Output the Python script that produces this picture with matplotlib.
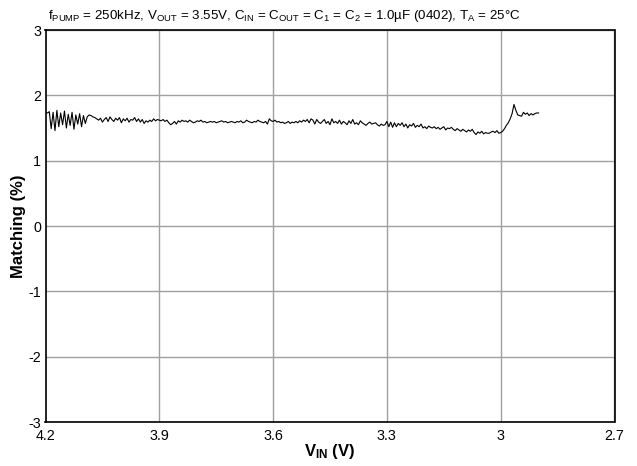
import numpy as np
import matplotlib
matplotlib.use('Agg')
import matplotlib.pyplot as plt

plt.rcParams['font.family'] = ['Liberation Sans', 'DejaVu Sans']
plt.rcParams['mathtext.fontset'] = 'custom'
plt.rcParams['mathtext.rm'] = 'Liberation Sans'
plt.rcParams['mathtext.bf'] = 'Liberation Sans:bold'
plt.rcParams['axes.unicode_minus'] = False

# matching (%), VIN swept 4.2V -> 2.9V
matching = [
    # 4.200 .. 4.085
    1.74, 1.73, 1.75, 1.49, 1.74, 1.46, 1.77, 1.52, 1.73, 1.55, 1.76, 1.50,
    1.71, 1.54, 1.74, 1.48, 1.70, 1.56, 1.72, 1.52, 1.69, 1.57, 1.67, 1.70,
    # 4.080 .. 3.905
    1.69, 1.67, 1.66, 1.64, 1.62, 1.65, 1.59, 1.63, 1.66, 1.60, 1.67, 1.63,
    1.60, 1.65, 1.62, 1.66, 1.58, 1.64, 1.61, 1.65, 1.59, 1.63, 1.62, 1.66,
    1.60, 1.64, 1.59, 1.63, 1.57, 1.61, 1.59, 1.62, 1.60, 1.64, 1.61, 1.63,
    # 3.900 .. 3.605
    1.62, 1.61, 1.63, 1.60, 1.62, 1.58, 1.55, 1.57, 1.60, 1.56, 1.61, 1.59,
    1.62, 1.60, 1.61, 1.59, 1.62, 1.60, 1.58, 1.59, 1.61, 1.60, 1.62, 1.59,
    1.60, 1.58, 1.59, 1.60, 1.59, 1.60, 1.58, 1.59, 1.60, 1.61, 1.59, 1.60,
    1.58, 1.59, 1.60, 1.59, 1.58, 1.60, 1.59, 1.61, 1.58, 1.59, 1.62, 1.60,
    1.59, 1.58, 1.60, 1.59, 1.62, 1.60, 1.59, 1.58, 1.60, 1.56, 1.64, 1.61,
    # 3.600 .. 3.305
    1.60, 1.62, 1.59, 1.60, 1.58, 1.59, 1.57, 1.58, 1.60, 1.57, 1.59, 1.58,
    1.60, 1.58, 1.61, 1.59, 1.62, 1.60, 1.63, 1.58, 1.64, 1.62, 1.56, 1.63,
    1.59, 1.57, 1.60, 1.63, 1.57, 1.60, 1.55, 1.64, 1.58, 1.60, 1.57, 1.62,
    1.56, 1.60, 1.58, 1.55, 1.61, 1.57, 1.63, 1.56, 1.58, 1.55, 1.61, 1.58,
    1.56, 1.54, 1.57, 1.59, 1.56, 1.57, 1.58, 1.55, 1.53, 1.56, 1.54, 1.55,
    # 3.300 .. 3.005
    1.60, 1.52, 1.59, 1.51, 1.58, 1.52, 1.57, 1.54, 1.58, 1.52, 1.56, 1.50,
    1.55, 1.53, 1.57, 1.51, 1.54, 1.52, 1.56, 1.50, 1.52, 1.49, 1.53, 1.51,
    1.50, 1.52, 1.49, 1.51, 1.48, 1.50, 1.52, 1.47, 1.50, 1.49, 1.51, 1.48,
    1.46, 1.49, 1.47, 1.45, 1.48, 1.46, 1.44, 1.47, 1.45, 1.48, 1.43, 1.40,
    1.44, 1.42, 1.45, 1.41, 1.43, 1.42, 1.42, 1.44, 1.45, 1.43, 1.46, 1.42,
    # 3.000 .. 2.900
    1.43, 1.45, 1.49, 1.54, 1.58, 1.64, 1.72, 1.86, 1.77, 1.70, 1.69, 1.68,
    1.74, 1.71, 1.73, 1.69, 1.72, 1.70, 1.72, 1.73, 1.73,
]
vin = np.linspace(4.2, 2.9, len(matching))

xticks = [4.2, 3.9, 3.6, 3.3, 3.0, 2.7]
xticklabels = ['4.2', '3.9', '3.6', '3.3', '3', '2.7']
yticks = [-3, -2, -1, 0, 1, 2, 3]

fig = plt.figure(figsize=(6.37, 4.66), dpi=100)
ax = fig.add_axes([45.5/637, 1-422/466, 569/637, 392/466])

ax.plot(vin, matching, color='black', lw=0.8)

ax.set_xlim(4.2, 2.7)
ax.set_ylim(-3, 3)
ax.set_xticks(xticks)
ax.set_xticklabels(xticklabels)
ax.set_yticks(yticks)
ax.grid(True, color='#a0a0a0', lw=1)
ax.set_axisbelow(True)
ax.tick_params(length=0, labelsize=10.3)
ax.tick_params(axis='x', pad=5)
ax.tick_params(axis='y', pad=3)
for s in ax.spines.values():
    s.set_linewidth(1.2)

ax.set_xlabel(r'$\mathbf{V_{IN}}$ (V)', fontsize=12, fontweight='bold', labelpad=-1)
ax.set_ylabel('Matching (%)', fontsize=12, fontweight='bold', labelpad=2)

title = (r'f$_{\mathregular{PUMP}}$ = 250kHz, V$_{\mathregular{OUT}}$ = 3.55V, '
         r'C$_{\mathregular{IN}}$ = C$_{\mathregular{OUT}}$ = C$_{\mathregular{1}}$ = '
         r'C$_{\mathregular{2}}$ = 1.0µF (0402), T$_{\mathregular{A}}$ = 25°C')
fig.text(48/637, 1-19/466, title, fontsize=9.6, ha='left', va='baseline')

fig.savefig('out.png', dpi=100)
